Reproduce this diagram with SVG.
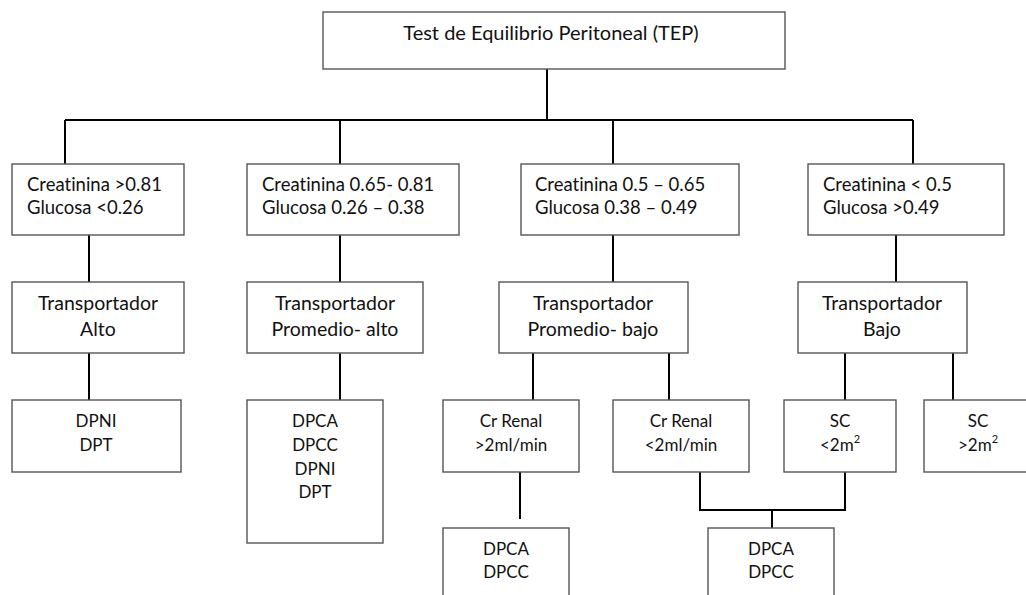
<svg xmlns="http://www.w3.org/2000/svg" width="1026" height="595" viewBox="0 0 1026 595">
<style>
.box{fill:#fff;stroke:#555;stroke-width:1.4}
.t{font-family:Lato,"Liberation Sans",sans-serif;fill:#111;font-variant-ligatures:none}
.c{text-anchor:middle}
.h{font-size:20px}
.r2{font-size:18.5px}
.r3{font-size:19.5px}
.r4{font-size:17px}
.sup{font-size:11px}
#connectors path{fill:none;stroke:#000;stroke-width:2}
</style>
<rect width="1026" height="595" fill="#fff"/>
<g id="connectors">
<path d="M547 69V120M65 120H913M65 120V164M340 120V164M613 120V164M913 120V164"/>
<path d="M89 235V282M340 235V282M613 235V282M896 235V282"/>
<path d="M89 353V400M340 353V400M533 353V400M669 353V400M845 353V400M953 353V400"/>
<path d="M520 472V519M700 472V510H845V472M772 510V528"/>
</g>
<g id="tep"><rect class="box" x="323" y="12" width="462" height="57"/><text class="t c h" x="551" y="40">Test de Equilibrio Peritoneal (TEP)</text></g>
<g id="cr1"><rect class="box" x="12" y="164" width="172" height="71"/><text class="t r2" x="27" y="191">Creatinina &gt;0.81</text><text class="t r2" x="27" y="214">Glucosa &lt;0.26</text></g>
<g id="cr2"><rect class="box" x="247" y="164" width="212" height="71"/><text class="t r2" x="262" y="191">Creatinina 0.65- 0.81</text><text class="t r2" x="262" y="214">Glucosa 0.26 – 0.38</text></g>
<g id="cr3"><rect class="box" x="521" y="164" width="218" height="71"/><text class="t r2" x="535" y="191">Creatinina 0.5 – 0.65</text><text class="t r2" x="535" y="214">Glucosa 0.38 – 0.49</text></g>
<g id="cr4"><rect class="box" x="808" y="164" width="196" height="71"/><text class="t r2" x="823" y="191">Creatinina &lt; 0.5</text><text class="t r2" x="823" y="214">Glucosa &gt;0.49</text></g>
<g id="tr1"><rect class="box" x="12" y="282" width="172" height="71"/><text class="t c r3" x="98" y="310">Transportador</text><text class="t c r3" x="98" y="336">Alto</text></g>
<g id="tr2"><rect class="box" x="247" y="282" width="176" height="71"/><text class="t c r3" x="335" y="310">Transportador</text><text class="t c r3" x="335" y="336">Promedio- alto</text></g>
<g id="tr3"><rect class="box" x="499" y="282" width="189" height="71"/><text class="t c r3" x="593" y="310">Transportador</text><text class="t c r3" x="593" y="336">Promedio- bajo</text></g>
<g id="tr4"><rect class="box" x="798" y="282" width="169" height="71"/><text class="t c r3" x="882" y="310">Transportador</text><text class="t c r3" x="882" y="336">Bajo</text></g>
<g id="d1"><rect class="box" x="12" y="400" width="169" height="72"/><text class="t c r4" x="96" y="427">DPNI</text><text class="t c r4" x="96" y="451">DPT</text></g>
<g id="d2"><rect class="box" x="247" y="400" width="136" height="143"/><text class="t c r4" x="315" y="427">DPCA</text><text class="t c r4" x="315" y="451">DPCC</text><text class="t c r4" x="315" y="475">DPNI</text><text class="t c r4" x="315" y="498">DPT</text></g>
<g id="crg"><rect class="box" x="443" y="400" width="136" height="72"/><text class="t c r4" x="511" y="427">Cr Renal</text><text class="t c r4" x="511" y="451">&gt;2ml/min</text></g>
<g id="crl"><rect class="box" x="613" y="400" width="136" height="72"/><text class="t c r4" x="681" y="427">Cr Renal</text><text class="t c r4" x="681" y="451">&lt;2ml/min</text></g>
<g id="scl"><rect class="box" x="784" y="400" width="112" height="72"/><text class="t c r4" x="840" y="427">SC</text><text class="t c r4" x="840" y="451">&lt;2m<tspan class="sup" dy="-8">2</tspan></text></g>
<g id="scg"><rect class="box" x="924" y="400" width="108" height="72"/><text class="t c r4" x="978" y="427">SC</text><text class="t c r4" x="978" y="451">&gt;2m<tspan class="sup" dy="-8">2</tspan></text></g>
<g id="b1"><rect class="box" x="443" y="528" width="126" height="80"/><text class="t c r4" x="506" y="555">DPCA</text><text class="t c r4" x="506" y="578">DPCC</text></g>
<g id="b2"><rect class="box" x="708" y="528" width="126" height="80"/><text class="t c r4" x="771" y="555">DPCA</text><text class="t c r4" x="771" y="578">DPCC</text></g>
</svg>
